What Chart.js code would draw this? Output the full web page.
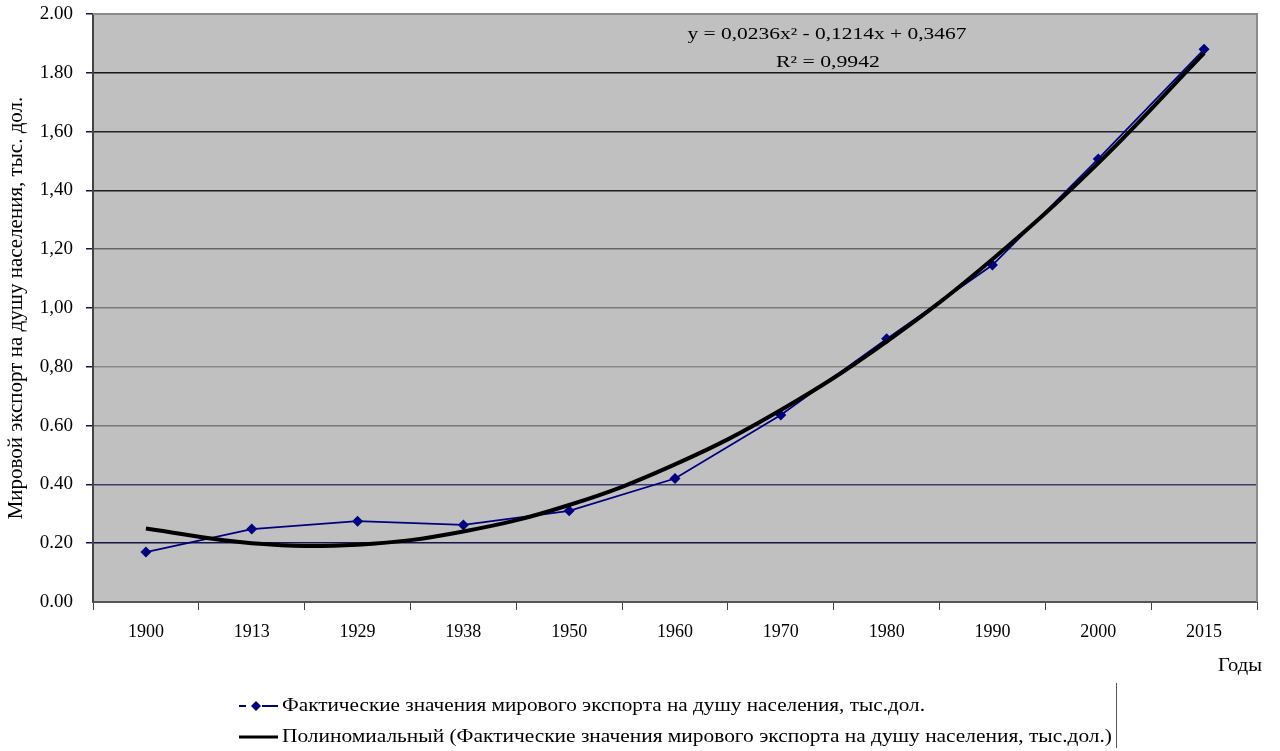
<!DOCTYPE html>
<html>
<head>
<meta charset="utf-8">
<script src="https://cdn.jsdelivr.net/npm/chart.js@4"></script>
<style>
  html, body { margin: 0; padding: 0; background: #fff; }
  #wrap { width: 1280px; height: 751px; }
</style>
</head>
<body>
<div id="wrap"><canvas id="export-chart" width="1280" height="751"></canvas></div>
<script>
// years on the category axis
const years = ['1900', '1913', '1929', '1938', '1950', '1960', '1970', '1980', '1990', '2000', '2015'];
// actual values, thousand dollars per capita
const actual = [0.17, 0.248, 0.275, 0.262, 0.31, 0.42, 0.636, 0.895, 1.146, 1.507, 1.88];
// polynomial trend
const trend = [0.25, 0.2, 0.195, 0.24, 0.33, 0.468, 0.653, 0.886, 1.166, 1.493, 1.867];
// y tick labels as printed (mixed separators in the source)
const yTickLabels = ['0.00', '0.20', '0.40', '0.60', '0,80', '1,00', '1,20', '1,40', '1,60', '1.80', '2.00'];

const seriesName = 'Фактические значения мирового экспорта на душу населения, тыс.дол.';
const trendName = 'Полиномиальный (Фактические значения мирового экспорта на душу населения, тыс.дол.)';

const FONT = '"Liberation Serif", "Times New Roman", serif';

// gridline colours, bottom to top
const gridColors = ['#555555', '#15154a', '#3c3c6a', '#77777f', '#888888', '#7a7a7a', '#666666', '#1c1c22', '#222228', '#15151c', '#888888'];

// the source text is a bit wider than the font, so stretch it to the measured width
function stretchedText(ctx, text, x, y, width, align) {
  const k = width / ctx.measureText(text).width;
  ctx.save();
  ctx.translate(x, y);
  ctx.scale(k, 1);
  ctx.textAlign = align;
  ctx.fillText(text, 0, 0);
  ctx.restore();
}

const decorations = {
  id: 'decorations',
  beforeDraw(chart) {
    const { ctx, chartArea: a } = chart;
    ctx.save();
    ctx.fillStyle = '#c0c0c0';
    ctx.fillRect(a.left, a.top, a.right - a.left, a.bottom - a.top);
    ctx.restore();
  },
  afterDraw(chart) {
    const { ctx, chartArea: a } = chart;
    ctx.save();
    // top and right frame
    ctx.strokeStyle = '#8a8a8a';
    ctx.lineWidth = 2;
    ctx.beginPath();
    ctx.moveTo(a.left, a.top);
    ctx.lineTo(a.right, a.top);
    ctx.lineTo(a.right, a.bottom);
    ctx.stroke();

    ctx.fillStyle = '#000';
    ctx.textBaseline = 'middle';

    // trend equation
    ctx.font = '16px ' + FONT;
    stretchedText(ctx, 'y = 0,0236x² - 0,1214x + 0,3467', 827, 35, 279, 'center');
    stretchedText(ctx, 'R² = 0,9942', 828, 63, 104, 'center');

    // axis caption
    ctx.font = '18px ' + FONT;
    stretchedText(ctx, 'Годы', 1262, 666, 44, 'right');

    // legend
    ctx.font = '18px ' + FONT;
    stretchedText(ctx, seriesName, 282, 706, 643, 'left');
    stretchedText(ctx, trendName, 282, 737, 830, 'left');

    ctx.strokeStyle = '#000080';
    ctx.lineWidth = 2;
    ctx.beginPath();
    ctx.moveTo(239, 706);
    ctx.lineTo(246, 706);
    ctx.moveTo(262, 706);
    ctx.lineTo(278, 706);
    ctx.stroke();
    ctx.fillStyle = '#000080';
    ctx.beginPath();
    ctx.moveTo(256, 701);
    ctx.lineTo(261, 706);
    ctx.lineTo(256, 711);
    ctx.lineTo(251, 706);
    ctx.closePath();
    ctx.fill();

    ctx.strokeStyle = '#000';
    ctx.lineWidth = 3;
    ctx.beginPath();
    ctx.moveTo(239, 737);
    ctx.lineTo(278, 737);
    ctx.stroke();

    ctx.strokeStyle = '#555';
    ctx.lineWidth = 1;
    ctx.beginPath();
    ctx.moveTo(1116.5, 683);
    ctx.lineTo(1116.5, 748);
    ctx.stroke();
    ctx.restore();
  }
};

new Chart(document.getElementById('export-chart'), {
  type: 'line',
  data: {
    labels: years,
    datasets: [
      {
        label: trendName,
        data: trend,
        borderColor: '#000',
        borderWidth: 4,
        pointRadius: 0,
        tension: 0.4,
        fill: false
      },
      {
        label: seriesName,
        data: actual,
        borderColor: '#000080',
        backgroundColor: '#000080',
        borderWidth: 1.8,
        pointStyle: 'rectRot',
        pointRadius: 5.5,
        pointBorderWidth: 0,
        tension: 0,
        fill: false
      }
    ]
  },
  plugins: [decorations],
  options: {
    responsive: false,
    animation: false,
    layout: { padding: { top: 14, right: 23, left: 0, bottom: 0 } },
    plugins: {
      legend: { display: false },
      tooltip: { enabled: false }
    },
    scales: {
      x: {
        type: 'category',
        offset: true,
        afterFit(s) { s.height = 149; },
        grid: {
          offset: true,
          drawOnChartArea: false,
          drawTicks: true,
          tickLength: 8,
          tickColor: '#444'
        },
        border: { display: true, color: '#555', width: 2 },
        ticks: {
          color: '#000',
          font: { family: FONT, size: 18 },
          padding: 11,
          maxRotation: 0
        }
      },
      y: {
        min: 0,
        max: 2,
        afterFit(s) {
          s.width = 93;
          s.paddingTop = 0;
          s.paddingBottom = 0;
        },
        afterBuildTicks(s) {
          s.ticks = yTickLabels.map((_, i) => ({ value: i * 0.2 }));
        },
        grid: {
          color: (c) => gridColors[c.index] || '#777',
          lineWidth: (c) => (c.index === 0 ? 0 : 1.5),
          tickLength: 7,
          tickColor: '#15154a'
        },
        border: { display: true, color: '#444', width: 2 },
        title: {
          display: true,
          text: 'Мировой экспорт на душу населения, тыс. дол.',
          color: '#000',
          font: { family: FONT, size: 21 },
          padding: { top: 4, bottom: 0 }
        },
        ticks: {
          color: '#000',
          font: { family: FONT, size: 19 },
          padding: 13,
          callback: (v, i) => yTickLabels[i]
        }
      }
    }
  }
});
</script>
</body>
</html>
